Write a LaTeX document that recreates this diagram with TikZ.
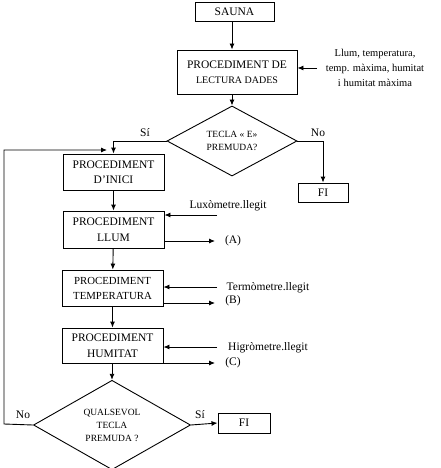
\documentclass[tikz,border=0pt]{standalone}
\usepackage{fontspec}
\setmainfont{Liberation Serif}
\usetikzlibrary{positioning,shapes.geometric,arrows.meta}

\begin{document}
\begin{tikzpicture}[x=1pt,y=1pt,>={Latex[length=6pt,width=5pt]},line width=0.9pt]
                    \tikzstyle{every node}=[inner sep=0,font=\fontsize{11.5}{15.5}\selectfont]
                    \tikzstyle{proc}=[draw,rectangle,align=center,minimum width=101,minimum height=36]
                    \tikzstyle{fibox}=[draw,rectangle,minimum width=50,minimum height=19]
                    \tikzstyle{decide}=[draw,diamond,align=center,font=\fontsize{9.5}{13}\selectfont]
                    \tikzstyle{note}=[align=center]
                    \useasboundingbox (0,0) rectangle (440,-468);
                    {
                        \node[fibox,minimum width=79] (sauna) at (234.5,-11.5) {SAUNA};
                        \node[proc,minimum width=120,minimum height=44] (lect) at (237,-72)
                            {PROCEDIMENT DE\\{\fontsize{10}{12}\selectfont LECTURA DADES}};
                        \node[note,font=\fontsize{10.5}{15}\selectfont] (dades) at (375,-68)
                            {Llum, temperatura,\\temp. màxima, humitat\\i humitat màxima};
                        \node[decide,minimum width=130,minimum height=59] (tecla) at (232,-141)
                            {TECLA « E»\\PREMUDA?};
                        \node[fibox] (fi1) at (323,-192.5) {FI};
                        \node (si1) at (145,-133) {Sí};
                        \node (no1) at (318,-133) {No};

                        \node[proc] (inici) at (113.5,-172) {PROCEDIMENT\\D’INICI};
                        \node[proc,minimum height=37] (llum) at (113.5,-229.5) {PROCEDIMENT\\LLUM};
                        \node[proc,font=\fontsize{10.8}{15}\selectfont] (temp) at (112.5,-288) {PROCEDIMENT\\TEMPERATURA};
                        \node[proc,minimum height=35] (hum) at (112.5,-345.5) {PROCEDIMENT\\HUMITAT};
                        \node[decide,minimum width=157,minimum height=81] (qual) at (112,-425)
                            {QUALSEVOL\\TECLA\\PREMUDA ?};
                        \node[fibox,minimum width=52,minimum height=20] (fi2) at (244,-423) {FI};
                        \node (si2) at (200,-415) {Sí};
                        \node (no2) at (23,-415) {No};

                        \node (lux) at (228,-206) {Luxòmetre.llegit};
                        \node (term) at (268,-288) {Termòmetre.llegit};
                        \node (higr) at (268,-348) {Higròmetre.llegit};
                        \node (outa) at (233,-241) {(A)};
                        \node (outb) at (233,-301) {(B)};
                        \node (outc) at (233,-363) {(C)};

                        \coordinate (indades) at (317,-68);
                        \coordinate (inlux) at (217,-215);
                        \coordinate (interm) at (217,-287);
                        \coordinate (inhigr) at (217,-347);
                        \coordinate (enda) at (215,-241);
                        \coordinate (endb) at (215,-303);
                        \coordinate (endc) at (215,-363);
                        \coordinate (left) at (4,-424);
                        \coordinate (ret) at (107,-150);
                    }
                    \path[->]
                        (sauna.south -| tecla.north) edge (lect.north -| tecla.north)
                        (lect.south -| tecla.north) edge (tecla.north)
                        (indades) edge (lect.east |- indades)
                        (inici) edge (llum)
                        (llum) edge (temp)
                        (temp) edge (hum)
                        (hum.south -| qual.north) edge (qual.north)
                        (inlux) edge (llum.east |- inlux)
                        (interm) edge (temp.east |- interm)
                        (inhigr) edge (hum.east |- inhigr)
                        (llum.east |- enda) edge (enda)
                        (temp.east |- endb) edge (endb)
                        (hum.east |- endc) edge (endc)
                        (qual.east) edge (fi2.west);
                    \draw[->] (tecla.west) -| (inici.north);
                    \draw[->] (tecla.east) -| (fi1.north);
                    \draw[->] (qual.west) -- (left) |- (ret);
\end{tikzpicture}
\end{document}
